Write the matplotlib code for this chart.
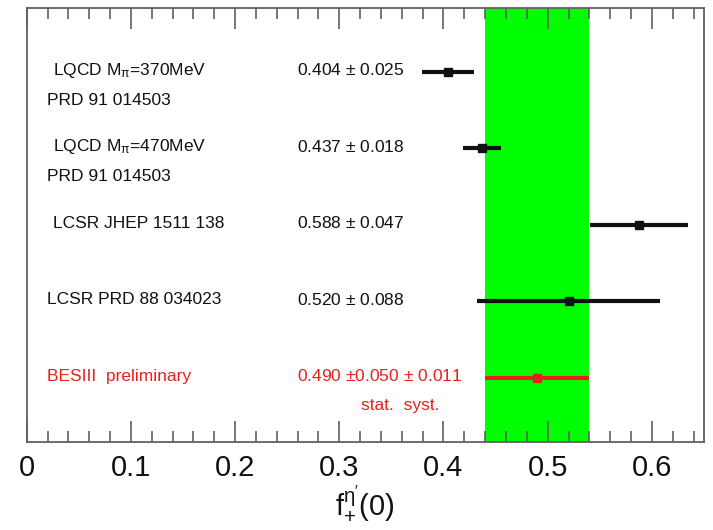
import matplotlib
matplotlib.use("Agg")
import matplotlib.pyplot as plt
from matplotlib.ticker import MultipleLocator

plt.rcParams['font.family'] = ['Liberation Sans', 'DejaVu Sans']
plt.rcParams['mathtext.fontset'] = 'custom'
plt.rcParams['mathtext.rm'] = 'Liberation Sans'
plt.rcParams['mathtext.it'] = 'Liberation Sans:italic'

# Predictions / measurements of f+^eta'(0), top to bottom
labels = ["LQCD M$_\\mathregular{\\pi}$=370MeV", "LQCD M$_\\mathregular{\\pi}$=470MeV",
          "LCSR JHEP 1511 138", "LCSR PRD 88 034023", "BESIII  preliminary"]
refs = ["PRD 91 014503", "PRD 91 014503", "", "", ""]
values = [0.404, 0.437, 0.588, 0.520, 0.490]
errors = [0.025, 0.018, 0.047, 0.088, 0.050]
value_text = ["0.404 $\\pm$ 0.025", "0.437 $\\pm$ 0.018", "0.588 $\\pm$ 0.047",
              "0.520 $\\pm$ 0.088", "0.490 $\\pm$0.050 $\\pm$ 0.011"]
rows = [5, 4, 3, 2, 1]

# BESIII stat. band
band_center = 0.490
band_err = 0.050

black = "#111111"
red = "#e8201c"
frame = "#606060"

fig = plt.figure(figsize=(7.13, 5.30), dpi=100)
ax = fig.add_axes([0.0374, 0.1666, 0.95, 0.8177])

ax.axvspan(band_center - band_err, band_center + band_err, color="#00ff00", lw=0, zorder=1)

for i in range(len(values)):
    c = red if labels[i].startswith("BESIII") else black
    ax.errorbar(values[i], rows[i], xerr=errors[i], fmt="s", color=c, ms=6,
                elinewidth=3.0, capsize=0, zorder=3)
    ax.text(0.025 if refs[i] or "JHEP" in labels[i] else 0.0195, rows[i] + 0.02, labels[i],
            color=c, fontsize=12.5, va="center", ha="left")
    if refs[i]:
        ax.text(0.0195, rows[i] - 0.37, refs[i], color=c, fontsize=12.5, va="center", ha="left")
    ax.text(0.259, rows[i] + 0.02, value_text[i], color=c, fontsize=12.5, va="center", ha="left")

ax.text(0.321, 1 - 0.36, "stat.  syst.", color=red, fontsize=12.5, va="center", ha="left")

ax.set_xlim(0, 0.65)
ax.set_ylim(0.163, 5.83)
ax.xaxis.set_major_locator(MultipleLocator(0.1))
ax.xaxis.set_minor_locator(MultipleLocator(0.02))
ax.set_xticks([0, 0.1, 0.2, 0.3, 0.4, 0.5, 0.6])
ax.set_xticklabels(["0", "0.1", "0.2", "0.3", "0.4", "0.5", "0.6"])
ax.set_yticks([])
ax.tick_params(axis="x", which="major", direction="in", length=15, width=1.2,
               color=frame, top=True, labelsize=21, pad=9, labelcolor=black)
ax.tick_params(axis="x", which="minor", direction="in", length=8, width=1.2,
               color=frame, top=True)
for s in ax.spines.values():
    s.set_color(frame)
    s.set_linewidth(1.3)

ax.set_xlabel("$\\mathregular{f_{+}^{\\eta'}(0)}$", fontsize=21, color=black, labelpad=1)

fig.savefig("out.png", dpi=100)
